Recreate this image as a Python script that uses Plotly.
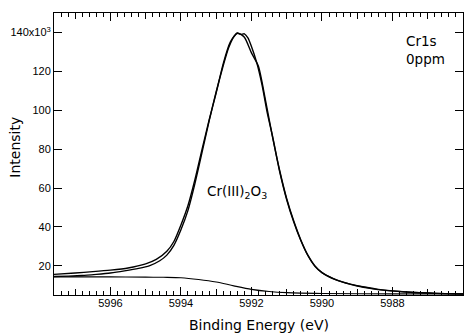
import plotly.graph_objects as go

# Binding energy (eV) and intensity (x10^3)
E_fit = [5997.6, 5997.0, 5996.5, 5996.0, 5995.5, 5995.0, 5994.7, 5994.4, 5994.2, 5994.0,
         5993.8, 5993.6, 5993.4, 5993.2, 5993.0, 5992.8, 5992.6, 5992.4, 5992.2, 5992.0,
         5991.8, 5991.6, 5991.4, 5991.2, 5991.0, 5990.8, 5990.6, 5990.4, 5990.2, 5990.0,
         5989.6, 5989.2, 5988.8, 5988.4, 5988.0, 5987.5, 5987.0, 5986.5, 5986.0]
I_fit = [15.6, 16.3, 17.0, 17.8, 18.9, 21.0, 23.3, 27.5, 32.5, 41.0,
         51.0, 64.5, 80.0, 95.0, 109.0, 124.0, 135.0, 139.8, 137.5, 129.5,
         122.5, 105.0, 86.0, 69.0, 54.5, 43.0, 33.3, 25.5, 20.0, 16.5,
         12.8, 10.6, 9.1, 7.9, 7.1, 6.4, 6.0, 5.7, 5.5]

E_meas = [5997.6, 5997.2, 5996.8, 5996.4, 5996.0, 5995.6, 5995.2, 5994.9, 5994.6, 5994.4,
          5994.2, 5994.0, 5993.8, 5993.6, 5993.4, 5993.2, 5993.0, 5992.8, 5992.65, 5992.5,
          5992.4, 5992.3, 5992.2, 5992.1, 5992.0, 5991.85, 5991.7, 5991.55, 5991.4, 5991.2,
          5991.0, 5990.8, 5990.6, 5990.4, 5990.2, 5990.0, 5989.7, 5989.4, 5989.0, 5988.6,
          5988.2, 5987.8, 5987.4, 5987.0, 5986.5, 5986.0]
I_meas = [14.5, 14.7, 15.0, 15.6, 16.3, 17.4, 18.7, 20.0, 22.6, 25.5,
          30.5, 38.5, 48.5, 62.5, 78.5, 94.5, 109.5, 123.0, 132.0, 137.8,
          139.6, 139.0, 139.3, 137.2, 132.8, 124.5, 113.0, 98.5, 86.5, 68.5,
          54.0, 42.5, 33.0, 25.3, 19.8, 16.5, 13.6, 11.6, 9.6, 8.3,
          7.4, 6.8, 6.3, 6.0, 5.7, 5.5]

E_bg = [5997.6, 5996.0, 5995.0, 5994.5, 5994.0, 5993.5, 5993.0, 5992.5, 5992.0, 5991.5,
        5991.0, 5990.0, 5988.0, 5986.0]
I_bg = [14.3, 14.3, 14.2, 14.1, 13.9, 13.0, 11.7, 9.7, 7.9, 6.8,
        6.2, 5.8, 5.6, 5.5]

y_tickvals = [20, 40, 60, 80, 100, 120, 140]
y_ticktext = ["20", "40", "60", "80", "100", "120", "140x10<sup>3</sup>"]
x_major = [5996, 5994, 5992, 5990, 5988, 5986]
x_mid = [5997, 5995, 5993, 5991, 5989, 5987]
x_minor = [round(5986 + 0.2 * i, 1) for i in range(59)]
x_range = [5997.6, 5986.0]
y_range = [5.0, 150.0]

TICKFONT = dict(family="Liberation Sans, Arial", size=11, color="black")
TXTFONT = dict(family="DejaVu Sans", size=13.5, color="black")

fig = go.Figure()
fig.add_trace(go.Scatter(x=E_meas, y=I_meas, mode="lines", xaxis="x3",
                         line=dict(color="black", width=1.4, shape="spline", smoothing=0.6)))
fig.add_trace(go.Scatter(x=E_fit, y=I_fit, mode="lines", xaxis="x",
                         line=dict(color="black", width=1.4, shape="spline", smoothing=0.6)))
fig.add_trace(go.Scatter(x=E_bg, y=I_bg, mode="lines", xaxis="x2",
                         line=dict(color="black", width=1.1, shape="spline", smoothing=0.8)))

common_x = dict(range=x_range, ticks="inside", tickwidth=1, tickcolor="black",
                mirror="ticks", showgrid=False, zeroline=False)

# page body has an 8px margin, so the figure is sized to fit the 475x333 window
fig.update_layout(
    template="none",
    width=467, height=325,
    margin=dict(l=46, r=12, t=5, b=38, autoexpand=False),
    paper_bgcolor="white", plot_bgcolor="white",
    showlegend=False,
    xaxis=dict(common_x, tickvals=x_minor, ticklen=4, showticklabels=False,
               showline=True, linecolor="black", linewidth=1),
    xaxis2=dict(common_x, overlaying="x", tickvals=x_mid, ticklen=6,
                showticklabels=False, showline=False),
    xaxis3=dict(common_x, overlaying="x", tickvals=x_major, ticklen=8,
                showticklabels=True, showline=False, tickfont=TICKFONT),
    yaxis=dict(range=y_range, tickvals=y_tickvals, ticktext=y_ticktext,
               ticks="inside", ticklen=8, tickwidth=1, tickcolor="black", showline=True,
               linecolor="black", linewidth=1, mirror="ticks", showgrid=False,
               zeroline=False, tickfont=TICKFONT),
)

annotations = [
    dict(text="Binding Energy (eV)", x=0.5, y=-0.106, xref="paper", yref="paper",
         showarrow=False, font=dict(family="DejaVu Sans", size=14, color="black"),
         xanchor="center", yanchor="middle"),
    dict(text="Intensity", x=-0.096, y=0.525, xref="paper", yref="paper", textangle=-90,
         showarrow=False, font=dict(family="DejaVu Sans", size=14, color="black"),
         xanchor="center", yanchor="middle"),
    dict(text="Cr1s<br>0ppm", x=0.855, y=0.937, xref="paper", yref="paper", align="left",
         showarrow=False, font=TXTFONT, xanchor="left", yanchor="top"),
    dict(text="Cr(III)<sub>2</sub>O<sub>3</sub>", x=5992.4, y=58, xref="x", yref="y",
         showarrow=False, font=TXTFONT, xanchor="center", yanchor="middle"),
]
fig.update_layout(annotations=annotations)

fig.write_html("out.html")
